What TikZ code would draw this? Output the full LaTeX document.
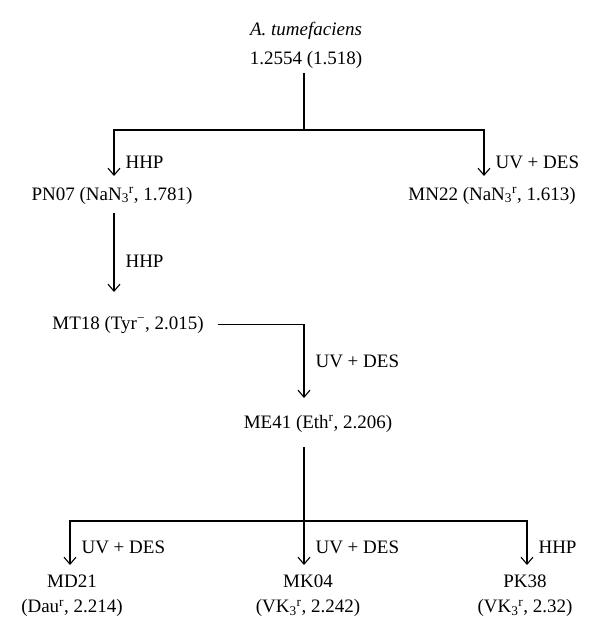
\documentclass[tikz,border=0pt]{standalone}
\usepackage{fontspec}
\setmainfont{Liberation Serif}
\usetikzlibrary{arrows.meta, positioning}

\begin{document}
\begin{tikzpicture}[x=1pt, y=-1pt,
  strain/.style={font=\fontsize{19}{25}\selectfont, inner sep=0pt, align=center},
  method/.style={font=\fontsize{19}{25}\selectfont, right, inner sep=0pt, xshift=11pt},
  link/.style={line width=1.1pt},
  arr/.style={line width=1.1pt, -{Straight Barb[length=7pt, width=12pt]}}]
  \useasboundingbox (0,0) rectangle (600,640);

  % Strains
  \node[strain, anchor=north] (root) at (306,22) {\textit{A. tumefaciens}\\[4pt]1.2554 (1.518)};
  \node[strain, anchor=base] (pn07) at (112,200) {PN07 (NaN\textsubscript{3}\textsuperscript{r}, 1.781)};
  \node[strain, anchor=base] (mn22) at (492,200) {MN22 (NaN\textsubscript{3}\textsuperscript{r}, 1.613)};
  \node[strain, anchor=base] (mt18) at (128,329) {MT18 (Tyr\textsuperscript{\char"2212}, 2.015)};
  \node[strain, anchor=base] (me41) at (318,428) {ME41 (Eth\textsuperscript{r}, 2.206)};
  \node[strain, anchor=north] (md21) at (72,575) {MD21\\(Dau\textsuperscript{r}, 2.214)};
  \node[strain, anchor=north] (mk04) at (308,575) {MK04\\(VK\textsubscript{3}\textsuperscript{r}, 2.242)};
  \node[strain, anchor=north] (pk38) at (525,575) {PK38\\(VK\textsubscript{3}\textsuperscript{r}, 2.32)};

  % Junctions and arrow ends
  \coordinate (fork1) at (304,130);
  \coordinate (pn07in) at (114,176);
  \coordinate (mn22in) at (484,176);
  \coordinate (mt18in) at (114,292);
  \coordinate (me41in) at (304,398);
  \coordinate (fork2) at (304,521);
  \coordinate (md21in) at (70,565);
  \coordinate (mk04in) at (304,565);
  \coordinate (pk38in) at (527,565);

  % Mutagenesis steps
  \draw[link, shorten <=4pt] (root.south -| fork1) -- (fork1);
  \draw[arr] (fork1) -| node[method, pos=0.85] {HHP} (pn07in);
  \draw[arr] (fork1) -| node[method, pos=0.85] {UV + DES} (mn22in);
  \draw[arr, shorten <=9pt] (pn07.south -| pn07in) -- node[method, pos=0.65] {HHP} (mt18in);
  \draw[arr, shorten <=14pt] (mt18.east) -| node[method, pos=0.75] {UV + DES} (me41in);
  \draw[link, shorten <=15pt] (me41.south -| fork2) -- (fork2);
  \draw[arr] (fork2) -| node[method, pos=0.8] {UV + DES} (md21in);
  \draw[arr] (fork2) -- node[method, pos=0.6] {UV + DES} (mk04in);
  \draw[arr] (fork2) -| node[method, pos=0.8] {HHP} (pk38in);
\end{tikzpicture}
\end{document}
